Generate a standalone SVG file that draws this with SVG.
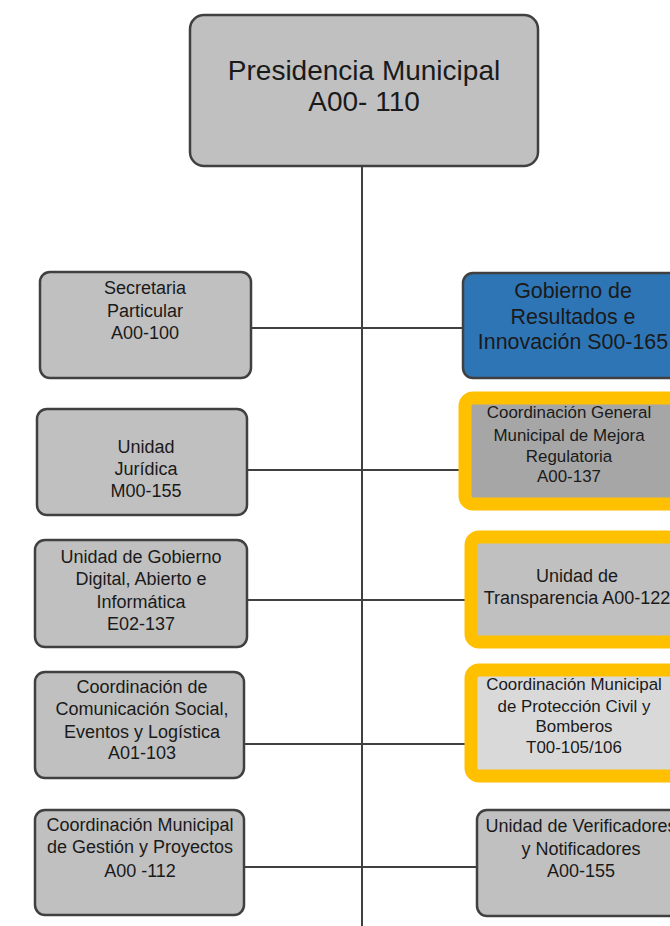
<svg xmlns="http://www.w3.org/2000/svg" width="670" height="926" viewBox="0 0 670 926">
<style>
.box{fill:#c0c0c0;stroke:#404040;stroke-width:2.5}
.blue{fill:#2e75b6;stroke:#404040;stroke-width:2.5}
.ring{stroke:#ffc000;stroke-width:13}
.t{font-family:"Liberation Sans",Arial,sans-serif;font-size:18px;fill:#1a1a1a;text-anchor:middle}
.s{font-size:16.9px}
.big{font-size:28px}
.mid{font-size:21.4px}
.c{stroke:#404040;stroke-width:2;fill:none}
</style>
<rect width="670" height="926" fill="#ffffff"/>
<g id="connectors">
<line class="c" x1="362" y1="166" x2="362" y2="926"/>
<line class="c" x1="251" y1="328" x2="463" y2="328"/>
<line class="c" x1="247" y1="470" x2="460" y2="470"/>
<line class="c" x1="247" y1="600" x2="466" y2="600"/>
<line class="c" x1="244" y1="744" x2="466" y2="744"/>
<line class="c" x1="244" y1="867" x2="477" y2="867"/>
</g>
<g id="presidencia">
<rect class="box" x="190" y="15" width="348" height="151" rx="14"/>
<text class="t big" x="364" y="80">Presidencia Municipal</text>
<text class="t big" x="364" y="111">A00- 110</text>
</g>
<g id="secretaria">
<rect class="box" x="40" y="272" width="211" height="106" rx="10"/>
<text class="t" x="145" y="294">Secretaria</text>
<text class="t" x="145" y="317">Particular</text>
<text class="t" x="145" y="339">A00-100</text>
</g>
<g id="juridica">
<rect class="box" x="37" y="409" width="210" height="106" rx="10"/>
<text class="t" x="146" y="453">Unidad</text>
<text class="t" x="146" y="475">Jurídica</text>
<text class="t" x="146" y="497">M00-155</text>
</g>
<g id="gobierno-digital">
<rect class="box" x="35" y="540" width="212" height="107" rx="10"/>
<text class="t" x="141" y="563">Unidad de Gobierno</text>
<text class="t" x="141" y="585">Digital, Abierto e</text>
<text class="t" x="141" y="608">Informática</text>
<text class="t" x="141" y="630">E02-137</text>
</g>
<g id="comunicacion">
<rect class="box" x="35" y="672" width="209" height="106" rx="10"/>
<text class="t" x="142" y="693">Coordinación de</text>
<text class="t" x="142" y="715">Comunicación Social,</text>
<text class="t" x="142" y="738">Eventos y Logística</text>
<text class="t" x="142" y="759">A01-103</text>
</g>
<g id="gestion">
<rect class="box" x="35" y="810" width="209" height="105" rx="10"/>
<text class="t" x="140" y="831">Coordinación Municipal</text>
<text class="t" x="140" y="853">de Gestión y Proyectos</text>
<text class="t" x="140" y="877">A00 -112</text>
</g>
<g id="gobierno-resultados">
<rect class="blue" x="463" y="273" width="240" height="105" rx="10"/>
<text class="t mid" x="573" y="298">Gobierno de</text>
<text class="t mid" x="573" y="324">Resultados e</text>
<text class="t mid" x="573" y="349">Innovación S00-165</text>
</g>
<g id="mejora-regulatoria">
<rect class="ring" x="465" y="398" width="240" height="106" rx="8" fill="#a6a6a6"/>
<text class="t s" x="569" y="418">Coordinación General</text>
<text class="t s" x="569" y="441">Municipal de Mejora</text>
<text class="t s" x="569" y="462">Regulatoria</text>
<text class="t s" x="569" y="482">A00-137</text>
</g>
<g id="transparencia">
<rect class="ring" x="471" y="537" width="240" height="105" rx="8" fill="#c0c0c0"/>
<text class="t" x="577" y="582">Unidad de</text>
<text class="t" x="577" y="604">Transparencia A00-122</text>
</g>
<g id="proteccion-civil">
<rect class="ring" x="471" y="670" width="240" height="106" rx="8" fill="#d9d9d9"/>
<text class="t s" x="574" y="690">Coordinación Municipal</text>
<text class="t s" x="574" y="712">de Protección Civil y</text>
<text class="t s" x="574" y="732">Bomberos</text>
<text class="t s" x="574" y="753">T00-105/106</text>
</g>
<g id="verificadores">
<rect class="box" x="477" y="810" width="240" height="106" rx="10"/>
<text class="t" x="581" y="832">Unidad de Verificadores</text>
<text class="t" x="581" y="855">y Notificadores</text>
<text class="t" x="581" y="877">A00-155</text>
</g>
</svg>
